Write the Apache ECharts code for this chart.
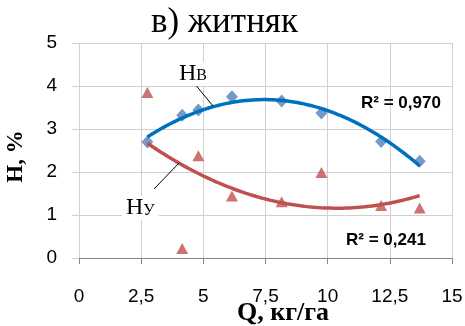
<!DOCTYPE html>
<html>
<head>
<meta charset="utf-8">
<script src="https://cdn.jsdelivr.net/npm/echarts@6/dist/echarts.min.js"></script>
<style>html,body{margin:0;padding:0;background:#fff}#c{width:465px;height:326px}</style>
</head>
<body>
<div id="c"></div>
<script>
// Data
const qValues = [2.75, 4.15, 4.8, 6.15, 8.15, 9.75, 12.15, 13.7];
const hB = [2.70, 3.32, 3.44, 3.75, 3.65, 3.37, 2.71, 2.25];
const hU = [3.85, 0.22, 2.38, 1.44, 1.31, 1.99, 1.22, 1.16];
const xTicks = ['0', '2,5', '5', '7,5', '10', '12,5', '15'];
const xName = 'Q, кг/га';
const r2B = 'R² = 0,970';
const r2U = 'R² = 0,241';

// quadratic least-squares trendline (like the spreadsheet's polynomial trendline)
function polyFit2(xs, ys) {
  let n = xs.length, s = [0,0,0,0,0], t = [0,0,0];
  for (let i = 0; i < n; i++) {
    let x = xs[i], y = ys[i];
    for (let k = 0; k < 5; k++) s[k] += Math.pow(x, k);
    for (let k = 0; k < 3; k++) t[k] += y * Math.pow(x, k);
  }
  const A = [[s[0], s[1], s[2], t[0]], [s[1], s[2], s[3], t[1]], [s[2], s[3], s[4], t[2]]];
  for (let i = 0; i < 3; i++) {
    for (let j = i + 1; j < 3; j++) {
      const f = A[j][i] / A[i][i];
      for (let k = i; k < 4; k++) A[j][k] -= f * A[i][k];
    }
  }
  const c = [0,0,0];
  for (let i = 2; i >= 0; i--) {
    let v = A[i][3];
    for (let k = i + 1; k < 3; k++) v -= A[i][k] * c[k];
    c[i] = v / A[i][i];
  }
  return c;
}
function trend(xs, ys) {
  const c = polyFit2(xs, ys);
  const x0 = Math.min(...xs), x1 = Math.max(...xs);
  const out = [];
  for (let i = 0; i <= 80; i++) {
    const x = x0 + (x1 - x0) * i / 80;
    out.push([x, c[0] + c[1] * x + c[2] * x * x]);
  }
  return out;
}

const chart = echarts.init(document.getElementById('c'));
const sans = 'Liberation Sans';
const serif = 'Liberation Serif';
chart.setOption({
  animation: false,
  title: {
    text: 'в) житняк', left: 146, top: 0,
    textStyle: { fontFamily: serif, fontSize: 35, fontWeight: 'normal', color: '#000' }
  },
  grid: { left: 79, right: 13, top: 43, bottom: 68, containLabel: false, outerBoundsMode: 'none' },
  xAxis: {
    type: 'value', min: 0, max: 15, interval: 2.5,
    axisLine: { show: true, onZero: false, lineStyle: { color: '#868686', width: 1 } },
    axisTick: { show: true, length: 6, lineStyle: { color: '#868686' } },
    axisLabel: { margin: 29, fontFamily: sans, fontSize: 19, color: '#000',
      formatter: (v) => xTicks[Math.round(v / 2.5)] },
    splitLine: { show: true, lineStyle: { color: '#d0d0d0', width: 1 } }
  },
  yAxis: {
    type: 'value', min: 0, max: 5, interval: 1,
    name: 'Н, %', nameLocation: 'middle', nameGap: 51,
    nameTextStyle: { fontFamily: serif, fontSize: 23, fontWeight: 'bold', color: '#000', padding: [0, 12, 0, 0] },
    axisLine: { show: false },
    axisTick: { show: true, length: 7, lineStyle: { color: '#d0d0d0' } },
    axisLabel: { margin: 22, fontFamily: sans, fontSize: 19, color: '#000' },
    splitLine: { show: true, lineStyle: { color: '#d0d0d0', width: 1 } }
  },
  series: [
    { type: 'scatter', data: qValues.map((q, i) => [q, hB[i]]), symbol: 'diamond', symbolSize: [12, 13],
      itemStyle: { color: '#4F81BD' }, z: 2 },
    { type: 'scatter', data: qValues.map((q, i) => [q, hU[i]]), symbol: 'triangle', symbolSize: [12, 11],
      itemStyle: { color: '#C0504D' }, z: 2 },
    { type: 'line', data: trend(qValues, hB), showSymbol: false, smooth: false,
      lineStyle: { color: '#0070C0', width: 3.5 }, z: 3 },
    { type: 'line', data: trend(qValues, hU), showSymbol: false, smooth: false,
      lineStyle: { color: '#C0504D', width: 3.5 }, z: 3 }
  ],
  graphic: [
    { type: 'text', x: 283, y: 313, z: 11,
      style: { text: xName, align: 'center', verticalAlign: 'middle', fill: '#000',
        font: 'bold 26px "Liberation Serif"' } },
    { type: 'line', shape: { x1: 194, y1: 83, x2: 213, y2: 106 }, style: { stroke: '#000', lineWidth: 1 }, z: 10 },
    { type: 'line', shape: { x1: 154, y1: 189, x2: 179, y2: 163 }, style: { stroke: '#000', lineWidth: 1 }, z: 10 },
    { type: 'text', left: 176, top: 62, z: 11,
      style: { text: '{a|Н}{b|В}', backgroundColor: '#fff', padding: [0, 3, 0, 3],
        rich: { a: { fontFamily: serif, fontSize: 24, color: '#000', verticalAlign: 'bottom' },
                b: { fontFamily: serif, fontSize: 16, color: '#000', padding: [0, 0, -4, 0] } } } },
    { type: 'text', left: 122, top: 196, z: 11,
      style: { text: '{a|Н}{b|У}', backgroundColor: '#fff', padding: [0, 4, 0, 4],
        rich: { a: { fontFamily: serif, fontSize: 24, color: '#000' },
                b: { fontFamily: serif, fontSize: 16, color: '#000', padding: [0, 0, -6, 0] } } } },
    { type: 'text', left: 361, top: 95, z: 11,
      style: { text: r2B, fontFamily: sans, fontSize: 17, fontWeight: 'bold', fill: '#000' } },
    { type: 'text', left: 346, top: 232, z: 11,
      style: { text: r2U, fontFamily: sans, fontSize: 17, fontWeight: 'bold', fill: '#000' } }
  ]
});
</script>
</body>
</html>
